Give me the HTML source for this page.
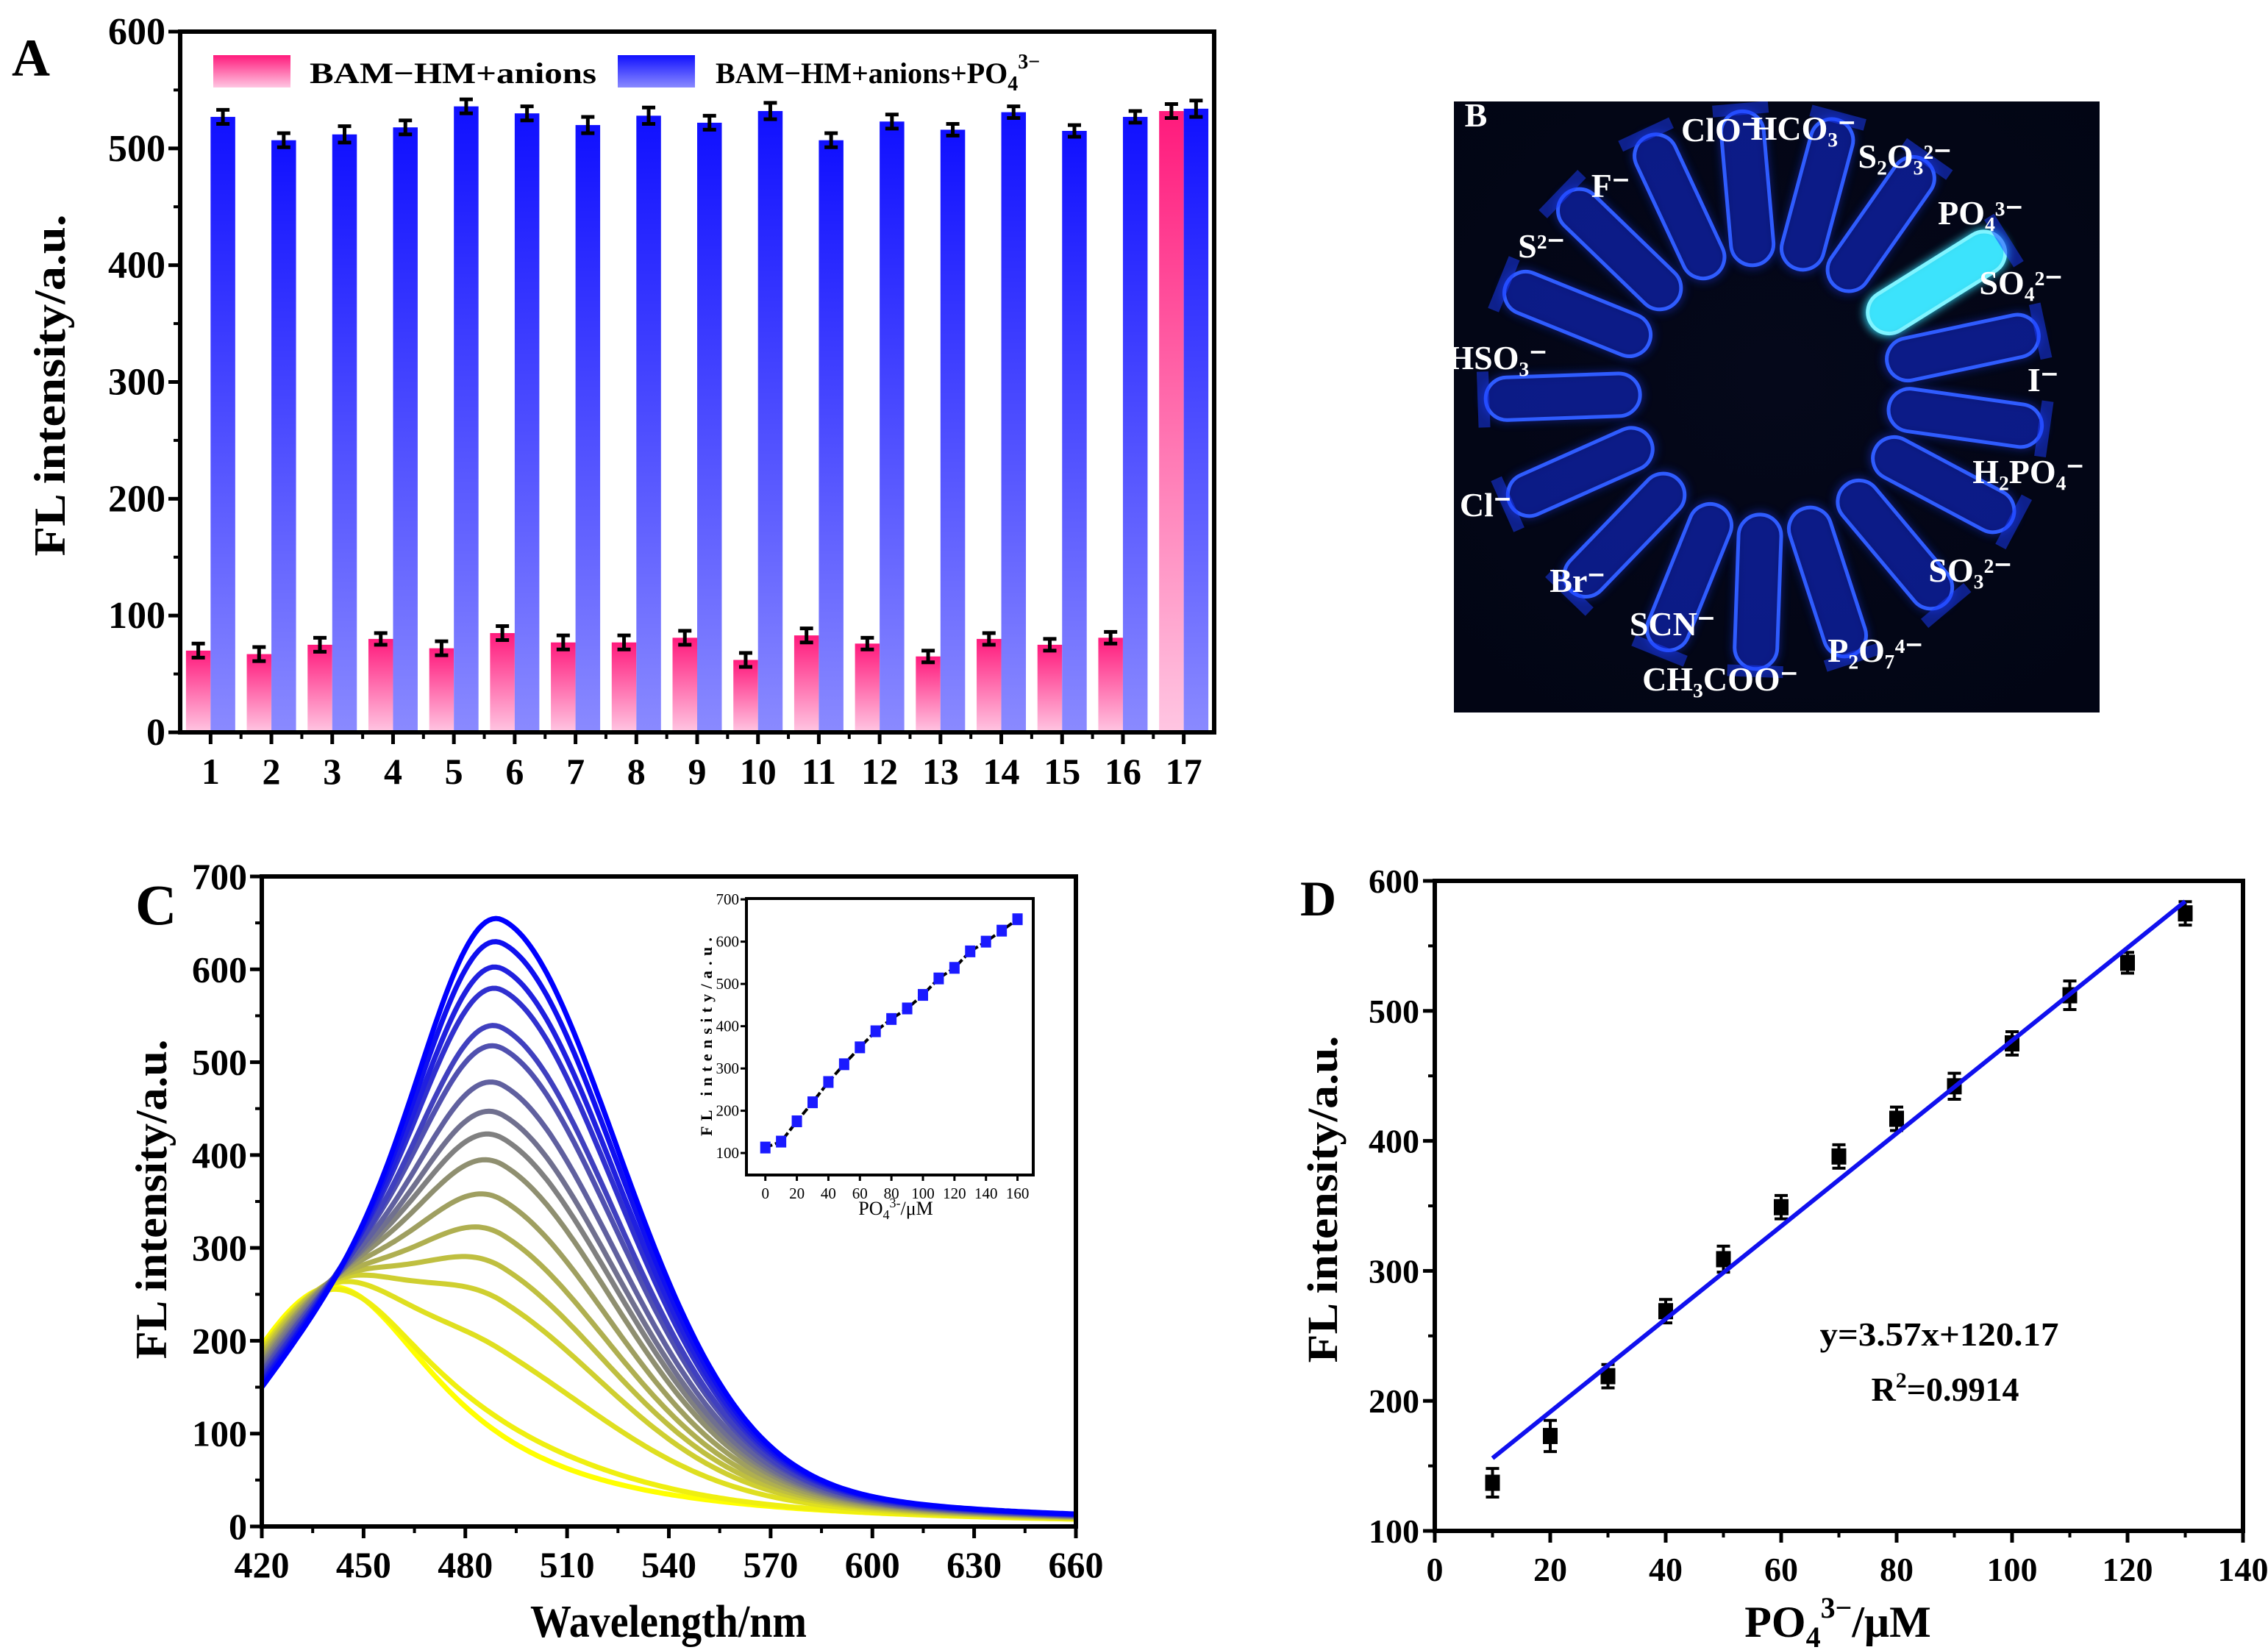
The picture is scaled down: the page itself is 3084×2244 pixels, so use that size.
<!DOCTYPE html>
<html><head><meta charset="utf-8">
<style>
html,body{margin:0;padding:0;background:#fff;}
svg{display:block;}
text{font-family:"Liberation Serif",serif;font-weight:bold;fill:#000;}
</style></head>
<body>
<svg id="fig" xmlns="http://www.w3.org/2000/svg" width="3084" height="2244" viewBox="0 0 3084 2244">
<defs>
<linearGradient id="gPink" x1="0" y1="0" x2="0" y2="1"><stop offset="0" stop-color="#ff1a7c"/><stop offset="1" stop-color="#ffc6e2"/></linearGradient>
<linearGradient id="gBlue" x1="0" y1="0" x2="0" y2="1"><stop offset="0" stop-color="#1010ff"/><stop offset="1" stop-color="#8a8aff"/></linearGradient>
<radialGradient id="gPhoto" cx="0.5" cy="0.45" r="0.7"><stop offset="0" stop-color="#05081a"/><stop offset="1" stop-color="#020514"/></radialGradient>
<filter id="glow" x="-50%" y="-50%" width="200%" height="200%"><feGaussianBlur stdDeviation="6"/></filter>
<clipPath id="clipB"><rect x="1977" y="138" width="878" height="831"/></clipPath>
</defs>
<g id="pA"></g>
<g id="pB" clip-path="url(#clipB)"></g>
<g id="pC"></g>
<g id="pD"></g>
</svg>
<script>
// ---- Panel A data ----
const aCategories = ['1','2','3','4','5','6','7','8','9','10','11','12','13','14','15','16','17'];
const aPinkValues = [70,67,75,80,72,85,77,77,81,62,83,76,65,80,75,81,532];
const aPinkErr = [6,6,6,5,6,6,6,6,6,6,6,5,5,5,5,5,6];
const aBlueValues = [527,507,512,518,536,530,520,528,522,532,507,523,516,531,515,527,534];
const aBlueErr = [6,6,7,6,6,6,7,7,6,7,6,6,5,5,5,5,7];
const aYTicks = [0,100,200,300,400,500,600];
// ---- Panel C data ----
const cConcentrations = [0,10,20,30,40,50,60,70,80,90,100,110,120,130,140,150,160];
const cBand440Amp = [258,253,249,244,240,235,231,226,222,217,212,208,203,199,194,190,185];
const cBand491Amp = [0,18,95,150,188,225,264,304,334,361,395,436,460,502,527,556,583];
const cXTicks = [420,450,480,510,540,570,600,630,660];
const cYTicks = [0,100,200,300,400,500,600,700];
const insetX = [0,10,20,30,40,50,60,70,80,90,100,110,120,130,140,150,160];
const insetY = [113,127,175,220,268,310,350,388,417,442,474,513,538,577,600,626,653];
const insetXTicks = [0,20,40,60,80,100,120,140,160];
const insetYTicks = [100,200,300,400,500,600,700];
// ---- Panel D data ----
const dX = [10,20,30,40,50,60,70,80,90,100,110,120,130];
const dY = [137,173,219,269,309,349,388,417,442,475,512,537,575];
const dErr = [11,12,9,9,10,9,9,9,10,9,11,8,9];
const dSlope = 3.57, dIntercept = 120.17;
const dXTicks = [0,20,40,60,80,100,120,140];
const dYTicks = [100,200,300,400,500,600];

const NS='http://www.w3.org/2000/svg';
function mk(tag, parent, attrs, txt){
  const el=document.createElementNS(NS,tag);
  for(const k in attrs) el.setAttribute(k,attrs[k]);
  if(txt!==undefined) el.textContent=txt;
  parent.appendChild(el);
  return el;
}
function label(parent, x, y, s, size, anchor, extra){
  const a={x:x,y:y,'font-size':size,'text-anchor':anchor||'middle'};
  if(extra) for(const k in extra) a[k]=extra[k];
  return mk('text',parent,a,s);
}

// ================= Panel A =================
(function(){
  const g=document.getElementById('pA');
  const L=245,R=1651,T=43,B=996;
  const y=v=>B-v/600*(B-T);
  const gw=(R-L)/aCategories.length, bw=gw*0.405;
  const xc=i=>L+(i+0.5)*gw;
  aCategories.forEach((c,i)=>{
    const pb=mk('rect',g,{x:xc(i)-bw,y:y(aPinkValues[i]),width:bw,height:B-y(aPinkValues[i]),fill:'url(#gPink)'});
    
    
    const bb=mk('rect',g,{x:xc(i),y:y(aBlueValues[i]),width:bw,height:B-y(aBlueValues[i]),fill:'url(#gBlue)'});
    
    
    [[xc(i)-bw/2,aPinkValues[i],aPinkErr[i]],[xc(i)+bw/2,aBlueValues[i],aBlueErr[i]]].forEach(([cx,v,e])=>{
      const eb=mk('path',g,{d:`M${cx-9},${y(v+e)}H${cx+9}M${cx},${y(v+e)}V${y(v-e)}M${cx-9},${y(v-e)}H${cx+9}`,stroke:'#000','stroke-width':5,fill:'none'});
      
      
    });
    const tk=mk('line',g,{x1:xc(i),x2:xc(i),y1:B,y2:B+16,stroke:'#000','stroke-width':5});
    
    
    if(i>0){const mt=mk('line',g,{x1:L+i*gw,x2:L+i*gw,y1:B,y2:B+9,stroke:'#000','stroke-width':4});
      
      }
    const tl=label(g,xc(i),1066,c,50);
    
    
  });
  aYTicks.forEach(v=>{
    const t=mk('line',g,{x1:L-16,x2:L,y1:y(v),y2:y(v),stroke:'#000','stroke-width':5});
    
    
    if(v<600){const m=mk('line',g,{x1:L-9,x2:L,y1:y(v+50),y2:y(v+50),stroke:'#000','stroke-width':4});
      
      }
    const tl=label(g,225,y(v)+17,String(v),52,'end');
    
    
  });
  const fr=mk('rect',g,{x:L,y:T,width:R-L,height:B-T,fill:'none',stroke:'#000','stroke-width':6});
  
  
  const yt=label(g,0,0,'FL intensity/a.u.',60,'middle',{transform:'translate(88,524) rotate(-90)',textLength:465,lengthAdjust:'spacingAndGlyphs'});
  
  
  const pl=label(g,16,103,'A',72,'start');
  
  
  const s1=mk('rect',g,{x:290,y:75,width:105,height:44,fill:'url(#gPink)'});
  
  
  const l1=label(g,421,113,'BAM−HM+anions',40,'start',{textLength:390,lengthAdjust:'spacingAndGlyphs'});
  
  
  const s2=mk('rect',g,{x:840,y:75,width:105,height:44,fill:'url(#gBlue)'});
  
  
  const l2=mk('text',g,{x:973,y:113,'font-size':40,'text-anchor':'start'});
  l2.innerHTML='BAM−HM+anions+PO<tspan font-size="28" dy="10">4</tspan><tspan font-size="28" dy="-30">3−</tspan>';
  
  
})();

// ================= Panel B =================
(function(){
  const g=document.getElementById('pB');
  const X0=1977,Y0=138,W=878,H=831;
  const bg=mk('rect',g,{x:X0,y:Y0,width:W,height:H,fill:'url(#gPhoto)'});
  
  
  const cx=2400,cy=530;
  const tubeAngles=[-95,-75,-55,-32,-12,8,28,50,72,92,112,134,156,178,-158,-136,-115];
  tubeAngles.forEach((a,i)=>{
    const bright=(a===-32);
    const tg=mk('g',g,{transform:`translate(${cx},${cy}) rotate(${a})`});
    
    
    mk('rect',tg,{x:165,y:-32,width:220,height:64,rx:32,fill:bright?'#30e0ff':'#1530d8',opacity:bright?0.9:0.5,filter:'url(#glow)'});
    mk('rect',tg,{x:170,y:-29,width:210,height:58,rx:29,fill:bright?'#40e8ff':'#0a1a9a','fill-opacity':bright?0.85:0.45,stroke:bright?'#80f4ff':'#2f5cff','stroke-width':5});
    mk('rect',tg,{x:375,y:-38,width:16,height:76,fill:'#1a3cff',opacity:0.5});
  });
  const labs=[['B',2007,172],['ClO⁻',2339,192],['HCO₃⁻',2452,190],['S₂O₃²⁻',2590,228],['F⁻',2190,268],['PO₄³⁻',2693,305],['S²⁻',2096,350],['SO₄²⁻',2748,400],['HSO₃⁻',2036,502],['I⁻',2778,532],['H₂PO₄⁻',2758,657],['Cl⁻',2020,702],['SO₃²⁻',2679,791],['Br⁻',2145,805],['SCN⁻',2274,864],['P₂O₇⁴⁻',2550,900],['CH₃COO⁻',2339,939]];
  labs.forEach(l=>{
    const t=label(g,l[1],l[2],l[0],46,'middle',{style:'fill:#fff'});
    
    
  });
})();

// ================= Panel C =================
(function(){
  const g=document.getElementById('pC');
  const L=356,R=1463,T=1192,B=2076;
  const x=v=>L+(v-420)/240*(R-L);
  const y=v=>B-v/700*(B-T);
  const F1=l=>{const d=l-441;return d<0?Math.exp(-d*d/(2*28*28)):1/(1+(d/39)*(d/39));};
  const F2=l=>{const d=l-491;if(d<0)return Math.exp(-d*d/(2*25*25));return 0.8*Math.exp(-d*d/(2*36*36))+0.2/(1+(d/45)*(d/45));};
  const clip=mk('clipPath',g,{id:'clipC'});
  mk('rect',clip,{x:L,y:T,width:R-L,height:B-T});
  const cg=mk('g',g,{'clip-path':'url(#clipC)'});
  cConcentrations.forEach((c,i)=>{
    const t=i/(cConcentrations.length-1);
    const col=`rgb(${Math.round(255*(1-t))},${Math.round(255*(1-t))},${Math.round(255*t)})`;
    let d='';
    for(let l=420;l<=660;l+=1){
      const v=cBand440Amp[i]*F1(l)+cBand491Amp[i]*F2(l);
      d+=(l===420?'M':'L')+x(l).toFixed(1)+','+y(v).toFixed(1);
    }
    const p=mk('path',cg,{d:d,fill:'none',stroke:col,'stroke-width':7});
    
    
  });
  cXTicks.forEach((v,i)=>{
    const t=mk('line',g,{x1:x(v),x2:x(v),y1:B,y2:B+16,stroke:'#000','stroke-width':5});
    
    
    if(i<cXTicks.length-1){const m=mk('line',g,{x1:x(v+15),x2:x(v+15),y1:B,y2:B+9,stroke:'#000','stroke-width':4});
      
      }
    const tl=label(g,x(v),2145,String(v),50);
    
    
  });
  cYTicks.forEach((v,i)=>{
    const t=mk('line',g,{x1:L-16,x2:L,y1:y(v),y2:y(v),stroke:'#000','stroke-width':5});
    
    
    if(i<cYTicks.length-1){const m=mk('line',g,{x1:L-9,x2:L,y1:y(v+50),y2:y(v+50),stroke:'#000','stroke-width':4});
      
      }
    const tl=label(g,336,y(v)+17,String(v),50,'end');
    
    
  });
  const fr=mk('rect',g,{x:L,y:T,width:R-L,height:B-T,fill:'none',stroke:'#000','stroke-width':6});
  
  
  const xt=label(g,909,2226,'Wavelength/nm',62,'middle',{textLength:376,lengthAdjust:'spacingAndGlyphs'});
  
  
  const yt=label(g,0,0,'FL intensity/a.u.',60,'middle',{transform:'translate(226,1631) rotate(-90)',textLength:435,lengthAdjust:'spacingAndGlyphs'});
  
  
  const pl=label(g,184,1257,'C',78,'start');
  
  
  const iL=1015,iR=1405,iT=1222,iB=1598;
  const ix=v=>iL+(v+12)/182*(iR-iL);
  const iy=v=>iB-(v-48)/654*(iB-iT);
  const ib=mk('rect',g,{x:iL,y:iT,width:iR-iL,height:iB-iT,fill:'#fff',stroke:'#000','stroke-width':4});
  
  
  let d='';
  insetX.forEach((v,i)=>{d+=(i?'L':'M')+ix(v)+','+iy(insetY[i]);});
  const il=mk('path',g,{d:d,fill:'none',stroke:'#000','stroke-width':4,'stroke-dasharray':'10,4'});
  
  
  insetX.forEach((v,i)=>{
    const m=mk('rect',g,{x:ix(v)-7,y:iy(insetY[i])-8,width:14,height:16,fill:'#1a1aff'});
    
    
  });
  insetXTicks.forEach(v=>{
    const t=mk('line',g,{x1:ix(v),x2:ix(v),y1:iB,y2:iB+8,stroke:'#000','stroke-width':3});
    
    
    const tl=label(g,ix(v),iB+32,String(v),21,'middle',{style:'font-weight:normal'});
    
    
  });
  insetYTicks.forEach(v=>{
    const t=mk('line',g,{x1:iL-8,x2:iL,y1:iy(v),y2:iy(v),stroke:'#000','stroke-width':3});
    
    
    const tl=label(g,iL-10,iy(v)+7,String(v),21,'end',{style:'font-weight:normal'});
    
    
  });
  const ixt=mk('text',g,{x:1218,y:1652,'font-size':26,'text-anchor':'middle',style:'font-weight:normal'});
  ixt.innerHTML='PO<tspan font-size="18" dy="6">4</tspan><tspan font-size="18" dy="-16">3-</tspan><tspan dy="10">/μM</tspan>';
  
  
  const iyt=label(g,0,0,'FL intensity/a.u.',22,'middle',{transform:'translate(968,1410) rotate(-90)',textLength:270,lengthAdjust:'spacing'});
  
  
})();

// ================= Panel D =================
(function(){
  const g=document.getElementById('pD');
  const L=1951,R=3050,T=1198,B=2082;
  const x=v=>L+v/140*(R-L);
  const y=v=>B-(v-100)/500*(B-T);
  dXTicks.forEach((v,i)=>{
    const t=mk('line',g,{x1:x(v),x2:x(v),y1:B,y2:B+16,stroke:'#000','stroke-width':5});
    
    
    if(i<dXTicks.length-1){const m=mk('line',g,{x1:x(v+10),x2:x(v+10),y1:B,y2:B+9,stroke:'#000','stroke-width':4});
      
      }
    const tl=label(g,x(v),2150,String(v),46);
    
    
  });
  dYTicks.forEach((v,i)=>{
    const t=mk('line',g,{x1:L-16,x2:L,y1:y(v),y2:y(v),stroke:'#000','stroke-width':5});
    
    
    if(i<dYTicks.length-1){const m=mk('line',g,{x1:L-9,x2:L,y1:y(v+50),y2:y(v+50),stroke:'#000','stroke-width':4});
      
      }
    const tl=label(g,1930,y(v)+16,String(v),46,'end');
    
    
  });
  const fr=mk('rect',g,{x:L,y:T,width:R-L,height:B-T,fill:'none',stroke:'#000','stroke-width':6});
  
  
  dX.forEach((v,i)=>{
    const e=dErr[i];
    const eb=mk('path',g,{d:`M${x(v)-9},${y(dY[i]+e)}H${x(v)+9}M${x(v)},${y(dY[i]+e)}V${y(dY[i]-e)}M${x(v)-9},${y(dY[i]-e)}H${x(v)+9}`,stroke:'#000','stroke-width':4,fill:'none'});
    
    
    const m=mk('rect',g,{x:x(v)-10,y:y(dY[i])-11,width:20,height:22,fill:'#000'});
    
    
  });
  const x0=dX[0],x1=dX[dX.length-1];
  const fl=mk('line',g,{x1:x(x0),y1:y(dSlope*x0+dIntercept),x2:x(x1),y2:y(dSlope*x1+dIntercept),stroke:'#1010ee','stroke-width':6});
  
  
  const eq=label(g,2637,1830,'y=3.57x+120.17',46,'middle',{textLength:325,lengthAdjust:'spacingAndGlyphs'});
  
  
  const r2=mk('text',g,{x:2645,y:1905,'font-size':46,'text-anchor':'middle'});
  r2.innerHTML='R<tspan font-size="30" dy="-18">2</tspan><tspan dy="18">=0.9914</tspan>';
  
  
  const xt=mk('text',g,{x:2499,y:2226,'font-size':60,'text-anchor':'middle'});
  xt.innerHTML='PO<tspan font-size="40" dy="14">4</tspan><tspan font-size="40" dy="-40">3−</tspan><tspan dy="26">/μM</tspan>';
  
  
  const yt=label(g,0,0,'FL intensity/a.u.',58,'middle',{transform:'translate(1818,1631) rotate(-90)',textLength:445,lengthAdjust:'spacingAndGlyphs'});
  
  
  const pl=label(g,1768,1245,'D',68,'start');
  
  
})();
</script>
</body></html>
